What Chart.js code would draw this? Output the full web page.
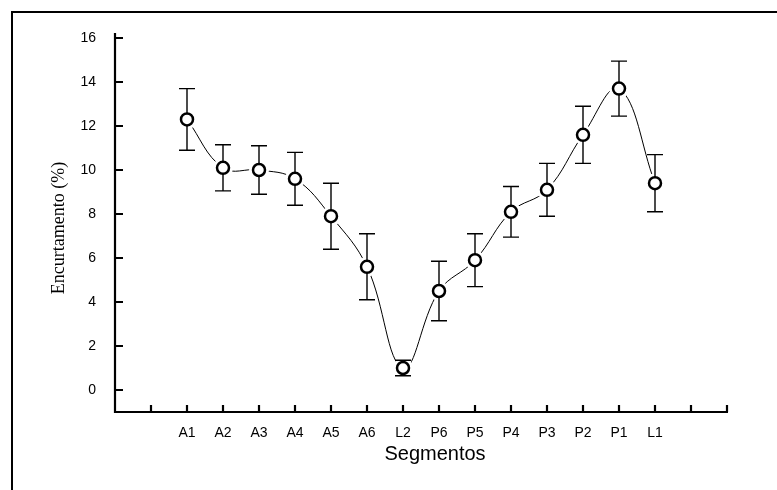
<!DOCTYPE html>
<html>
<head>
<meta charset="utf-8">
<script src="https://cdn.jsdelivr.net/npm/chart.js@4/dist/chart.umd.min.js"></script>
<style>
  body { margin: 0; background: #fff; }
  #caixa { width: 777px; height: 490px; }
</style>
</head>
<body>
<div id="caixa"><canvas id="grafico"></canvas></div>
<script>
// segmentos e médias com o erro de cada um
const segmentos = ['A1', 'A2', 'A3', 'A4', 'A5', 'A6', 'L2', 'P6', 'P5', 'P4', 'P3', 'P2', 'P1', 'L1'];
const encurtamento = [12.3, 10.1, 10.0, 9.6, 7.9, 5.6, 1.0, 4.5, 5.9, 8.1, 9.1, 11.6, 13.7, 9.4];
const erro = [1.4, 1.05, 1.1, 1.2, 1.5, 1.5, 0.35, 1.35, 1.2, 1.15, 1.2, 1.3, 1.25, 1.3];

// duas posições vazias de cada lado do eixo x
const vazios = 2;
const rotulos = ['', ''].concat(segmentos, ['', '']);
const dados = [null, null].concat(encurtamento, [null, null]);

const tituloX = 'Segmentos';
const tituloY = 'Encurtamento (%)';

const eixos = {
    id: 'eixos',
    beforeDraw(chart) {
        const ctx = chart.ctx;
        ctx.save();
        ctx.strokeStyle = '#000';
        ctx.lineWidth = 2;
        ctx.beginPath();
        ctx.moveTo(12, 490);
        ctx.lineTo(12, 12);
        ctx.lineTo(777, 12);
        ctx.stroke();
        ctx.restore();
    },
    beforeDatasetDraw(chart, args) {
        // barras de erro por baixo dos círculos
        if (args.index !== 0) return;
        const ctx = chart.ctx;
        const y = chart.scales.y;
        const pontos = chart.getDatasetMeta(0).data;
        ctx.save();
        ctx.strokeStyle = '#000';
        ctx.lineWidth = 1.4;
        for (let i = 0; i < encurtamento.length; i++) {
            const px = pontos[i + vazios].x;
            const topo = y.getPixelForValue(encurtamento[i] + erro[i]);
            const base = y.getPixelForValue(encurtamento[i] - erro[i]);
            ctx.beginPath();
            ctx.moveTo(px, topo);
            ctx.lineTo(px, base);
            ctx.moveTo(px - 8, topo);
            ctx.lineTo(px + 8, topo);
            ctx.moveTo(px - 8, base);
            ctx.lineTo(px + 8, base);
            ctx.stroke();
        }
        ctx.restore();
    },
    afterDraw(chart) {
        const ctx = chart.ctx;
        const a = chart.chartArea;
        const x = chart.scales.x;
        const y = chart.scales.y;
        ctx.save();
        ctx.strokeStyle = '#000';
        ctx.lineWidth = 2.2;
        ctx.beginPath();
        ctx.moveTo(a.left, a.top - 5);
        ctx.lineTo(a.left, a.bottom);
        ctx.lineTo(a.right + 1, a.bottom);
        // marcas para dentro
        y.ticks.forEach(t => {
            if (t.value < 0) return;
            const py = y.getPixelForValue(t.value);
            ctx.moveTo(a.left, py);
            ctx.lineTo(a.left + 8, py);
        });
        for (let i = 1; i < rotulos.length; i++) {
            const px = x.getPixelForValue(i);
            ctx.moveTo(px, a.bottom);
            ctx.lineTo(px, a.bottom - 7);
        }
        ctx.stroke();

        ctx.fillStyle = '#000';
        ctx.textAlign = 'center';
        ctx.textBaseline = 'middle';
        ctx.font = '20px "Liberation Sans", Arial, sans-serif';
        ctx.fillText(tituloX, (a.left + a.right) / 2 + 14, 454);

        ctx.translate(59, (a.top + a.bottom) / 2 + 3);
        ctx.rotate(-Math.PI / 2);
        ctx.font = '18px "Liberation Serif", "Times New Roman", serif';
        ctx.fillText(tituloY, 0, 0);
        ctx.restore();
    }
};

new Chart(document.getElementById('grafico'), {
    type: 'line',
    data: {
        labels: rotulos,
        datasets: [
            {
                // círculos
                data: dados,
                showLine: false,
                pointRadius: 6,
                pointBorderWidth: 2.5,
                pointBackgroundColor: '#fff',
                pointBorderColor: '#000',
                order: 0
            },
            {
                // folga branca em volta dos círculos
                data: dados,
                showLine: false,
                pointRadius: 10,
                pointBorderWidth: 0,
                pointBackgroundColor: '#fff',
                pointBorderColor: '#fff',
                order: 1
            },
            {
                // curva suavizada
                data: dados,
                borderColor: '#000',
                borderWidth: 1,
                tension: 0.4,
                pointRadius: 0,
                fill: false,
                order: 2
            }
        ]
    },
    options: {
        responsive: true,
        maintainAspectRatio: false,
        animation: false,
        layout: { padding: { left: 0, top: 38, right: 50, bottom: 0 } },
        plugins: {
            legend: { display: false },
            tooltip: { enabled: false }
        },
        scales: {
            x: {
                type: 'category',
                offset: false,
                grid: { display: false },
                border: { display: false },
                ticks: {
                    autoSkip: false,
                    maxRotation: 0,
                    padding: 5,
                    color: '#000',
                    font: { family: '"Liberation Sans", Arial, sans-serif', size: 14 }
                },
                afterFit(s) { s.height = 78; }
            },
            y: {
                min: -1,
                max: 16,
                grid: { display: false },
                border: { display: false },
                ticks: {
                    stepSize: 2,
                    padding: 11,
                    color: '#000',
                    font: { family: '"Liberation Sans", Arial, sans-serif', size: 14 },
                    callback: v => (v < 0 ? '' : v)
                },
                afterFit(s) { s.width = 115; }
            }
        }
    },
    plugins: [eixos]
});
</script>
</body>
</html>
